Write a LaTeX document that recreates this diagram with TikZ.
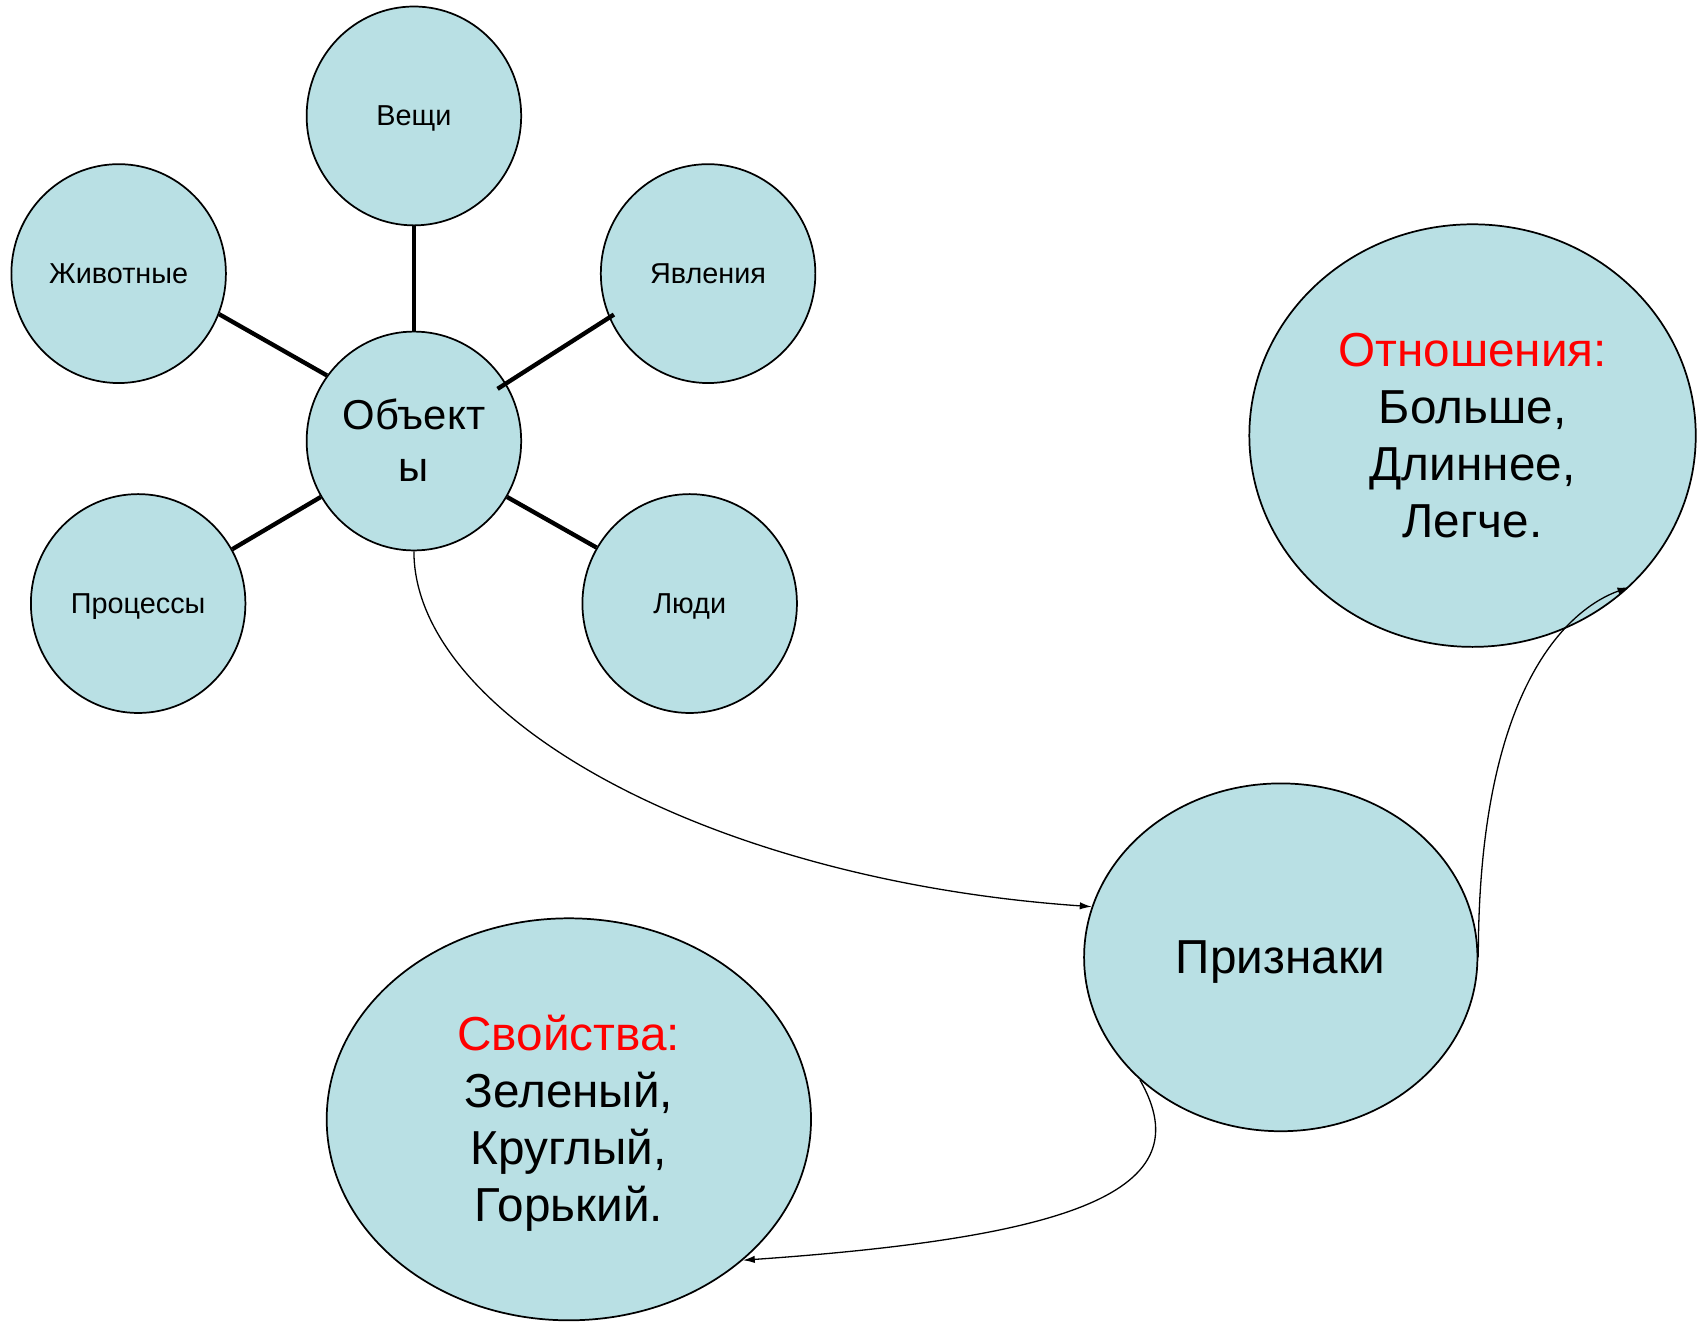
\documentclass[tikz,border=0pt]{standalone}
\usepackage{fontspec}
\setmainfont{Liberation Sans}
\usepackage{tikz}
\usetikzlibrary{shapes.geometric,arrows.meta}
\definecolor{bubble}{RGB}{185,224,228}
\newcommand{\ascstrut}{\rule{0pt}{0.905em}}
\newcommand{\descstrut}{\rule[-0.212em]{0pt}{0.212em}}

\begin{document}
\begin{tikzpicture}[x=0.5pt,y=-0.5pt,
		bub/.style={ellipse, draw=black, line width=0.8pt, fill=bubble, inner sep=0pt, align=center},
		oneline/.style={execute at begin node={\ascstrut}, execute at end node={\descstrut}},
		small/.style={bub, minimum width=99pt, minimum height=101pt, font=\fontsize{13.3}{16}\selectfont},
		big/.style={bub, font=\fontsize{22}{26.4}\selectfont},
		spoke/.style={black, line width=2pt},
		arr/.style={black, line width=0.6pt, -{Latex[length=5.5pt,width=3.4pt]}}]
		\useasboundingbox (0,0) rectangle (1568,1221);

		\node[small, oneline] (vesch) at (382,107) {Вещи};
		\node[small, oneline] (zhiv) at (109.5,252.5) {Животные};
		\node[small, oneline] (yavl) at (653.5,252.5) {Явления};
		\node[small, font=\fontsize{19.3}{23.7}\selectfont] (obj) at (382,407) {\ascstrut Объект\\ы\descstrut};
		\node[small, oneline] (proc) at (127.5,557) {Процессы};
		\node[small, oneline] (lyudi) at (636.5,557) {Люди};

		\node[big, minimum width=206pt, minimum height=195pt] (otn) at (1359,402) {\ascstrut\textcolor{red}{Отношения:}\\Больше,\\Длиннее,\\Легче.\descstrut};
		\node[big, oneline, minimum width=181.5pt, minimum height=160.5pt] (priz) at (1182,883.5) {Признаки};
		\node[big, minimum width=223.5pt, minimum height=185.5pt] (svoy) at (525,1033) {\ascstrut\textcolor{red}{Свойства:}\\Зеленый,\\Круглый,\\Горький.\descstrut};

		\draw[spoke] (vesch.south) -- (obj.north);
		\draw[spoke] (zhiv.-22) -- (obj.143);
		\draw[spoke, shorten <=-2.7pt, shorten >=-4.7pt] (yavl.-156) -- (obj.32);
		\draw[spoke] (proc.30) -- (obj.-149);
		\draw[spoke] (lyudi.149) -- (obj.-31);

		\draw[arr] (obj.south) .. controls +(0,150) and +(-360,-25) .. (priz.165);
		\draw[arr] (priz.east) .. controls +(0,-250) and +(-56,20) .. (otn.-44);
		\draw[arr] (priz.-139) .. controls +(60,104) and +(300,-21) .. (svoy.-39);

	\end{tikzpicture}
\end{document}
